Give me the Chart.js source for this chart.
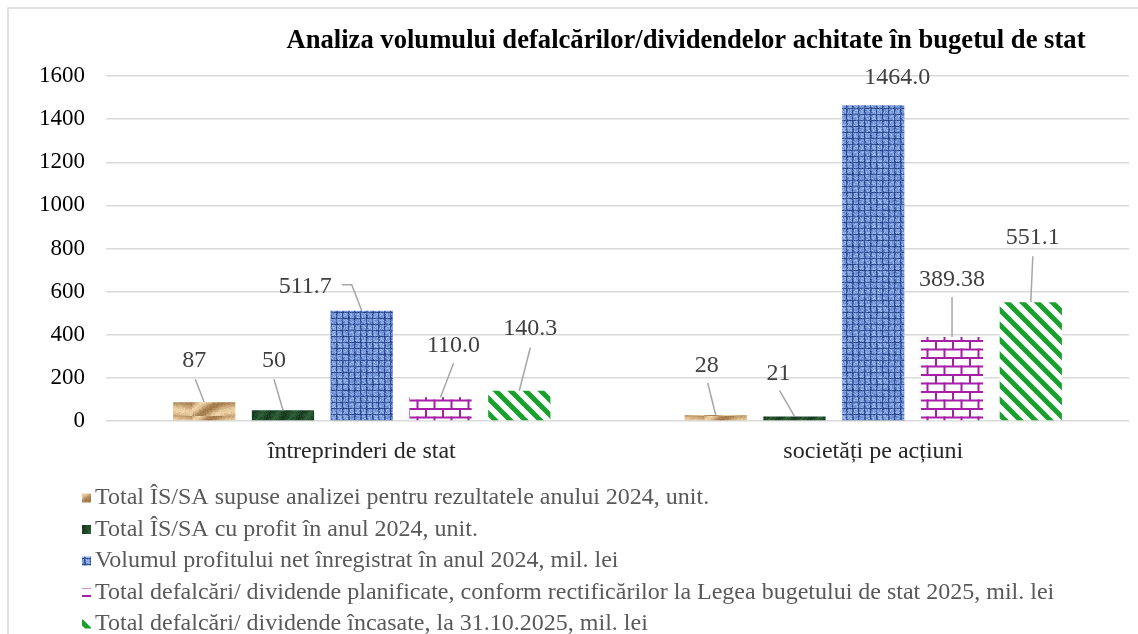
<!DOCTYPE html>
<html>
<head>
<meta charset="utf-8">
<script src="https://cdn.jsdelivr.net/npm/chart.js@4/dist/chart.umd.min.js"></script>
<style>
  html, body { margin: 0; padding: 0; background: #fff; }
  #chart { display: block; }
</style>
</head>
<body>
<canvas id="chart" width="1138" height="634"></canvas>
<script>
// categories and series
const categories = ["întreprinderi de stat", "societăți pe acțiuni"];
const seriesNames = [
  "Total ÎS/SA supuse analizei pentru rezultatele anului 2024, unit.",
  "Total ÎS/SA cu profit în anul 2024, unit.",
  "Volumul profitului net înregistrat în anul 2024, mil. lei",
  "Total defalcări/ dividende planificate, conform rectificărilor la Legea bugetului de stat 2025, mil. lei",
  "Total defalcări/ dividende încasate, la 31.10.2025, mil. lei"
];
const totalAnalizate = [87, 28];
const totalCuProfit = [50, 21];
const profitNet = [511.7, 1464.0];
const defalcariPlanificate = [110.0, 389.38];
const defalcariIncasate = [140.3, 551.1];
// decimals shown in the data labels
const labelDecimals = [[0, 0], [0, 0], [1, 1], [1, 2], [1, 1]];
const yMin = 0, yMax = 1600, yStep = 200;

const FONT = '"Liberation Serif", "Times New Roman", serif';

// ---- fill textures ----
function makeTile(w, h, fn) {
  const c = document.createElement("canvas");
  c.width = w; c.height = h;
  const g = c.getContext("2d");
  fn(g, w, h);
  return c;
}
function noiseGen(seed) {
  let s = seed;
  return () => (s = (s * 1103515245 + 12345) % 2147483648) / 2147483648;
}
function pixelTile(w, h, seed, colorAt) {
  return makeTile(w, h, (g) => {
    const img = g.createImageData(w, h);
    const rnd = noiseGen(seed);
    for (let y = 0; y < h; y++) {
      for (let x = 0; x < w; x++) {
        const c = colorAt(x, y, rnd());
        const i = (y * w + x) * 4;
        img.data[i] = c[0]; img.data[i + 1] = c[1]; img.data[i + 2] = c[2]; img.data[i + 3] = 255;
      }
    }
    g.putImageData(img, 0, 0);
  });
}
function mix(a, b, t) {
  t = Math.max(0, Math.min(1, t));
  return [a[0] + (b[0] - a[0]) * t, a[1] + (b[1] - a[1]) * t, a[2] + (b[2] - a[2]) * t];
}

const ctx = document.getElementById("chart").getContext("2d");

const woodTile = pixelTile(64, 32, 7, (x, y, r) => {
  const t = 0.6 + 0.35 * Math.sin(x * 0.09 + y * 0.3 + Math.sin(x * 0.05) * 3) + (r - 0.5) * 0.2;
  return mix([138, 92, 45], [242, 214, 168], t);
});
const greenTile = pixelTile(32, 32, 11, (x, y, r) => {
  const t = 0.5 + 0.25 * Math.sin(x * 0.4 + y * 0.2) + (r - 0.5) * 0.6;
  return mix([14, 48, 24], [52, 104, 62], t);
});
const denimTile = pixelTile(36, 36, 23, (x, y, r) => {
  const weave = (x % 6 === 0) || (y % 6 === 0) || (x % 6 === 1 && r > 0.6);
  if (weave) return mix([28, 55, 120], [80, 110, 180], r);
  return mix([95, 130, 205], [160, 190, 238], r);
});
const brickTile = makeTile(17, 17, (g) => {
  g.fillStyle = "#fff"; g.fillRect(0, 0, 17, 17);
  g.fillStyle = "#a61fa6";
  g.fillRect(0, 0, 17, 2);
  g.fillRect(0, 8.5, 17, 2);
  g.fillRect(0, 0, 2, 9);
  g.fillRect(8.5, 8.5, 2, 9);
});
const stripeTile = makeTile(15, 15, (g) => {
  g.fillStyle = "#fff"; g.fillRect(0, 0, 15, 15);
  g.strokeStyle = "#17a12c"; g.lineWidth = 5;
  for (let k = -15; k <= 30; k += 15) {
    g.beginPath(); g.moveTo(k - 15, -15); g.lineTo(k + 30, 30); g.stroke();
  }
});
const fills = [woodTile, greenTile, denimTile, brickTile, stripeTile].map(t => ctx.createPattern(t, "repeat"));

// label placement relative to the top centre of each bar (pixels)
const labelPlacement = [
  [{ dx: -10, dy: -42, line: [[-9, -23], [0, 0]] }, { dx: -9, dy: -49, line: [[-8, -32], [0, 0]] }],
  [{ dx: -9, dy: -50, line: [[-9, -31], [0, 0]] }, { dx: -16, dy: -43, line: [[-15, -26], [0, 0]] }],
  [{ dx: -30, dy: -24, align: "right", line: [[-20, -26], [-10, -26], [0, 0]] }, { dx: 24, dy: -28 }],
  [{ dx: 13, dy: -52, line: [[13, -34], [0, 0]] }, { dx: 0, dy: -57, line: [[0, -40], [0, 0]] }],
  [{ dx: 11, dy: -62, line: [[11, -43], [0, 0]] }, { dx: 2, dy: -64, line: [[2, -46], [0, 0]] }]
];

const decorPlugin = {
  id: "decor",
  beforeDraw(chart) {
    const c = chart.ctx;
    c.save();
    c.strokeStyle = "#d9d9d9";
    c.lineWidth = 1.5;
    c.beginPath();
    c.moveTo(8, 634); c.lineTo(8, 8); c.lineTo(1138, 8);
    c.stroke();
    c.restore();
  },
  afterDatasetsDraw(chart) {
    const c = chart.ctx;
    c.save();
    chart.data.datasets.forEach((ds, di) => {
      const meta = chart.getDatasetMeta(di);
      meta.data.forEach((bar, i) => {
        const p = labelPlacement[di][i];
        if (p.line) {
          c.strokeStyle = "#a6a6a6";
          c.lineWidth = 1.5;
          c.beginPath();
          p.line.forEach((pt, k) => {
            if (k === 0) c.moveTo(bar.x + pt[0], bar.y + pt[1]);
            else c.lineTo(bar.x + pt[0], bar.y + pt[1]);
          });
          c.stroke();
        }
        c.fillStyle = "#404040";
        c.font = "24px " + FONT;
        c.textAlign = p.align || "center";
        c.textBaseline = "middle";
        c.fillText(ds.data[i].toFixed(labelDecimals[di][i]), bar.x + p.dx, bar.y + p.dy);
      });
    });
    c.restore();
  },
  afterDraw(chart) {
    const c = chart.ctx;
    c.save();
    // title
    c.fillStyle = "#000";
    c.font = "bold 28px " + FONT;
    c.textAlign = "center";
    c.textBaseline = "alphabetic";
    c.fillText("Analiza volumului defalcărilor/dividendelor achitate în bugetul de stat", 686, 48, 799);
    // legend, one item per row
    c.font = "24px " + FONT;
    c.textAlign = "left";
    c.textBaseline = "middle";
    chart.data.datasets.forEach((ds, i) => {
      const y = 498 + i * 31.5;
      c.fillStyle = ds.backgroundColor;
      c.fillRect(82, y - 4.5, 9, 9);
      c.fillStyle = "#595959";
      c.fillText(ds.label, 95, y);
    });
    c.restore();
  }
};

const seriesValues = [totalAnalizate, totalCuProfit, profitNet, defalcariPlanificate, defalcariIncasate];

new Chart(ctx, {
  type: "bar",
  data: {
    labels: categories,
    datasets: seriesValues.map((vals, i) => ({
      label: seriesNames[i],
      data: vals,
      backgroundColor: fills[i],
      borderWidth: 0,
      categoryPercentage: 0.77,
      barPercentage: 0.79
    }))
  },
  options: {
    responsive: false,
    animation: false,
    devicePixelRatio: 1,
    layout: { padding: { left: 0, right: 9, top: 76, bottom: 153 } },
    plugins: {
      legend: { display: false },
      title: { display: false },
      tooltip: { enabled: false }
    },
    scales: {
      x: {
        grid: { display: false },
        border: { display: false },
        ticks: { color: "#262626", font: { family: FONT, size: 24 }, padding: 8 },
        afterFit(scale) { scale.height = 60; }
      },
      y: {
        min: yMin,
        max: yMax,
        grid: { color: "#d9d9d9", lineWidth: 1.5, drawTicks: false },
        border: { display: false },
        ticks: {
          stepSize: yStep,
          color: "#000",
          font: { family: FONT, size: 23 },
          padding: 21,
          callback: (v) => String(v)
        },
        afterFit(scale) { scale.width = 106; }
      }
    }
  },
  plugins: [decorPlugin]
});
</script>
</body>
</html>
